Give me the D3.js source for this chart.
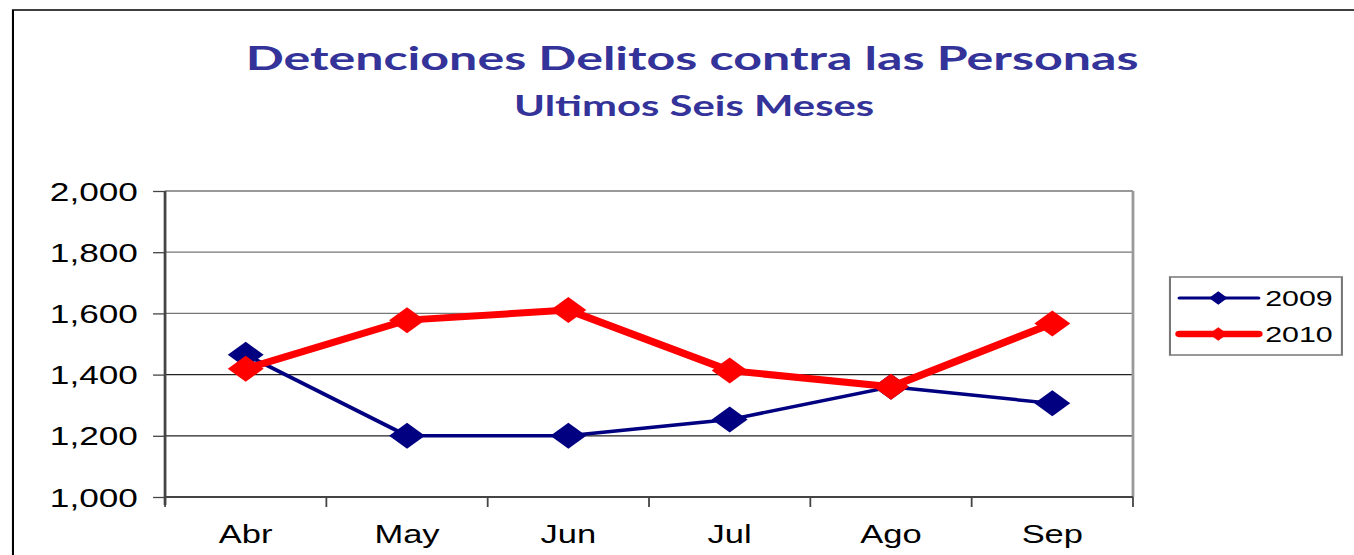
<!DOCTYPE html>
<html>
<head>
<meta charset="utf-8">
<script src="https://cdn.jsdelivr.net/npm/d3@7"></script>
<style>
  body { margin: 0; background: #fff; }
  svg { display: block; }
</style>
</head>
<body>
<svg id="chart"></svg>
<script>
// data
var months = ["Abr", "May", "Jun", "Jul", "Ago", "Sep"];
var values2009 = [1465, 1200, 1200, 1253, 1360, 1306];
var values2010 = [1419, 1578, 1611, 1413, 1360, 1567];
var yTicks = [1000, 1200, 1400, 1600, 1800, 2000];
var seriesNames = ["2009", "2010"];
var seriesColors = ["#000080", "#ff0000"];
var seriesWidths = [3.5, 7];

// the original picture is stretched sideways, so draw in a narrower
// space and let the viewBox stretch it
var stretch = 1.38;
var W = 1354 / stretch, H = 555;

var margin = {top: 191, right: W - 821, bottom: H - 497, left: 119.6},
    width = W - margin.left - margin.right,
    height = H - margin.top - margin.bottom;

var root = d3.select("#chart")
    .attr("width", 1354)
    .attr("height", H)
    .attr("viewBox", "0 0 " + W + " " + H)
    .attr("preserveAspectRatio", "none");

// outer frame (only top and left show)
root.append("path")
  .attr("d", "M9.4," + H + "V10H" + W)
  .attr("fill", "none")
  .attr("stroke", "#000")
  .attr("stroke-width", 1.5);

// titles
root.append("text")
  .attr("x", 501.5).attr("y", 70)
  .attr("text-anchor", "middle")
  .attr("font-family", "Lato, 'Open Sans', sans-serif")
  .attr("font-weight", "bold")
  .attr("font-size", 33)
  .attr("fill", "#333399")
  .attr("textLength", 647)
  .attr("lengthAdjust", "spacingAndGlyphs")
  .text("Detenciones Delitos contra las Personas");

root.append("text")
  .attr("x", 503).attr("y", 116)
  .attr("text-anchor", "middle")
  .attr("font-family", "Lato, 'Open Sans', sans-serif")
  .attr("font-weight", "bold")
  .attr("font-size", 28)
  .attr("fill", "#333399")
  .attr("textLength", 261)
  .attr("lengthAdjust", "spacingAndGlyphs")
  .text("Ultimos Seis Meses");

var svg = root.append("g")
    .attr("transform", "translate(" + margin.left + "," + margin.top + ")");

var x = d3.scaleBand()
  .domain(months)
  .range([0, width])
  .padding(0);

var y = d3.scaleLinear()
  .domain([1000, 2000])
  .range([height, 0]);

// gridlines
svg.append("g")
  .selectAll("line")
  .data(yTicks.slice(1))
  .enter().append("line")
    .attr("x1", 0).attr("x2", width)
    .attr("y1", function(d) { return y(d); })
    .attr("y2", function(d) { return y(d); })
    .attr("stroke", function(d) { return d >= 1600 ? "#777" : "#222"; })
    .attr("stroke-width", 1.3);

// right border of plot area
svg.append("line")
  .attr("x1", width).attr("x2", width)
  .attr("y1", 0).attr("y2", height)
  .attr("stroke", "#999")
  .attr("stroke-width", 2);

// Y axis
var yAxis = svg.append("g")
  .call(d3.axisLeft(y)
    .tickValues(yTicks)
    .tickFormat(d3.format(","))
    .tickSize(8.7)
    .tickSizeOuter(0)
    .tickPadding(11));
yAxis.select(".domain").attr("stroke", "#444").attr("stroke-width", 2)
  .attr("d", "M0,0V" + (height + 8));
yAxis.selectAll(".tick line").attr("stroke", "#444").attr("stroke-width", 1.3);
yAxis.selectAll("text")
  .attr("font-family", "'Liberation Sans', Arial, sans-serif")
  .attr("font-size", 25.5)
  .attr("fill", "#000")
  .attr("dy", "0.36em");

// X axis: line, ticks between categories, labels at band centres
var xAxis = svg.append("g")
  .attr("transform", "translate(0," + height + ")");
xAxis.append("line")
  .attr("x1", 0).attr("x2", width)
  .attr("stroke", "#444").attr("stroke-width", 2);
xAxis.selectAll(".xtick")
  .data(months.map(function(m) { return x(m); }).concat([width]))
  .enter().append("line")
    .attr("class", "xtick")
    .attr("x1", function(d) { return d; })
    .attr("x2", function(d) { return d; })
    .attr("y1", 0).attr("y2", 10)
    .attr("stroke", "#444").attr("stroke-width", 1.3);
xAxis.selectAll(".xlabel")
  .data(months)
  .enter().append("text")
    .attr("class", "xlabel")
    .attr("x", function(d) { return x(d) + x.bandwidth() / 2; })
    .attr("y", 46)
    .attr("text-anchor", "middle")
    .attr("font-family", "'Liberation Sans', Arial, sans-serif")
    .attr("font-size", 25)
    .text(function(d) { return d; });

// lines and markers
var series = [values2009, values2010];
var line = d3.line()
  .x(function(d, i) { return x(months[i]) + x.bandwidth() / 2; })
  .y(function(d) { return y(d); });
var diamond = d3.symbol().type(d3.symbolSquare).size(338);

series.forEach(function(vals, s) {
  svg.append("path")
    .datum(vals)
    .attr("fill", "none")
    .attr("stroke", seriesColors[s])
    .attr("stroke-width", seriesWidths[s])
    .attr("stroke-linejoin", "round")
    .attr("d", line);

  svg.append("g")
    .selectAll("path")
    .data(vals)
    .enter().append("path")
      .attr("d", diamond)
      .attr("fill", seriesColors[s])
      .attr("transform", function(d, i) {
        return "translate(" + (x(months[i]) + x.bandwidth() / 2) + "," + y(d) + ") rotate(45)";
      });
});

// legend
var legend = root.append("g").attr("transform", "translate(847.8,277)");
legend.append("rect")
  .attr("width", 124.6).attr("height", 78)
  .attr("fill", "#fff")
  .attr("stroke", "#777").attr("stroke-width", 1.5);

var legendItem = legend.selectAll(".item")
  .data(seriesNames)
  .enter().append("g")
    .attr("class", "item")
    .attr("transform", function(d, i) { return "translate(0," + (21 + i * 36) + ")"; });
legendItem.append("line")
  .attr("x1", 7).attr("x2", 64)
  .attr("stroke", function(d, i) { return seriesColors[i]; })
  .attr("stroke-width", function(d, i) { return seriesWidths[i] * 0.9; })
  .attr("stroke-linecap", "round");
legendItem.append("path")
  .attr("d", d3.symbol().type(d3.symbolSquare).size(90))
  .attr("fill", function(d, i) { return seriesColors[i]; })
  .attr("transform", "translate(35,0) rotate(45)");
legendItem.append("text")
  .attr("x", 69).attr("dy", "0.36em")
  .attr("font-family", "'Liberation Sans', Arial, sans-serif")
  .attr("font-size", 22)
  .text(function(d) { return d; });
</script>
</body>
</html>
